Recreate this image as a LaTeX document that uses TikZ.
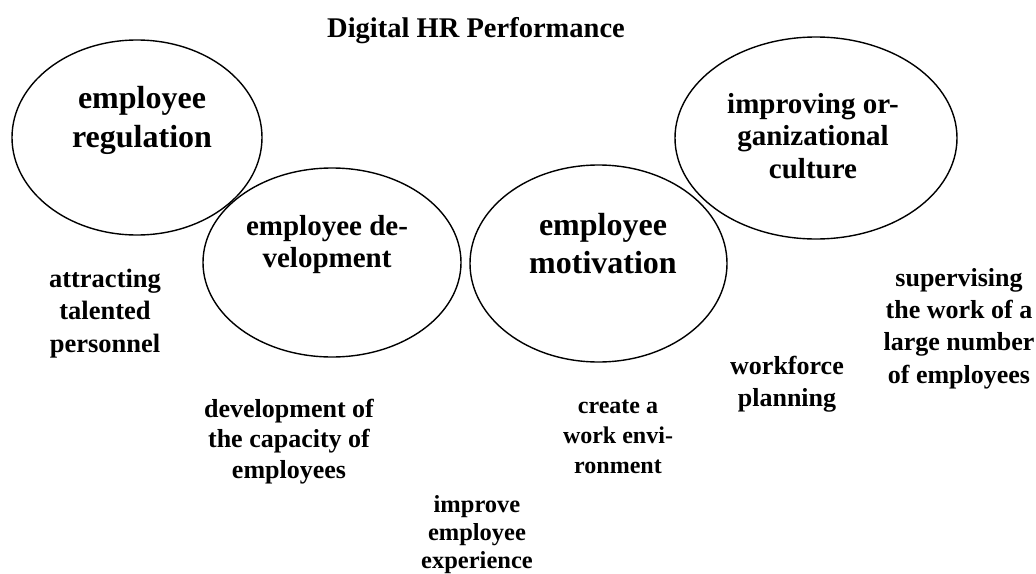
\documentclass[tikz,border=0pt]{standalone}
\usepackage{fontspec}
\setmainfont{Liberation Serif}
\usetikzlibrary{shapes.geometric}
\newcommand\fz[2]{\fontsize{#1}{#2}\selectfont\bfseries}
\tikzset{
  oval/.style={draw=black, line width=1.4pt, ellipse, inner sep=0pt},
  lbl/.style={align=center, inner sep=0pt, anchor=base},
}
\begin{document}
\begin{tikzpicture}[x=1pt,y=-1pt]
\useasboundingbox (0,0) rectangle (1036,573);
% ellipses
\node[oval, minimum width=250pt, minimum height=195pt] (reg) at (137,137.5) {};
\node[oval, minimum width=258pt, minimum height=189pt] (dev) at (332,262.5) {};
\node[oval, minimum width=257pt, minimum height=197pt] (mot) at (598.5,263.5) {};
\node[oval, minimum width=282pt, minimum height=202pt] (cul) at (816,138) {};
% title
\node[lbl, font=\fz{28.5}{34}] (title) at (476,37) {Digital HR Performance};
% ellipse texts (anchored at the baseline of the last line)
\node[lbl, font=\fz{32}{39}] (regt) at (142,147) {employee\\regulation};
\node[lbl, font=\fz{29}{32}] (devt) at (327,267) {employee de-\\velopment};
\node[lbl, font=\fz{32}{38}] (mott) at (603,273) {employee\\motivation};
\node[lbl, font=\fz{29}{32.5}] (cult) at (813,178) {improving or-\\ganizational\\culture};
% outer labels
\node[lbl, font=\fz{26.5}{32.5}] (attr) at (105,352) {attracting\\talented\\personnel};
\node[lbl, font=\fz{26}{32}] (work) at (787,406) {workforce\\planning};
\node[lbl, font=\fz{26}{32.3}] (sup) at (959,383) {supervising\\the work of a\\large number\\of employees};
\node[lbl, font=\fz{26}{30.5}] (cap) at (289,478) {development of\\the capacity of\\employees};
\node[lbl, font=\fz{24}{30}] (env) at (618,473) {create a\\work envi-\\ronment};
\node[lbl, font=\fz{24.5}{28}] (exp) at (477,568) {improve\\employee\\experience};
\end{tikzpicture}
\end{document}
